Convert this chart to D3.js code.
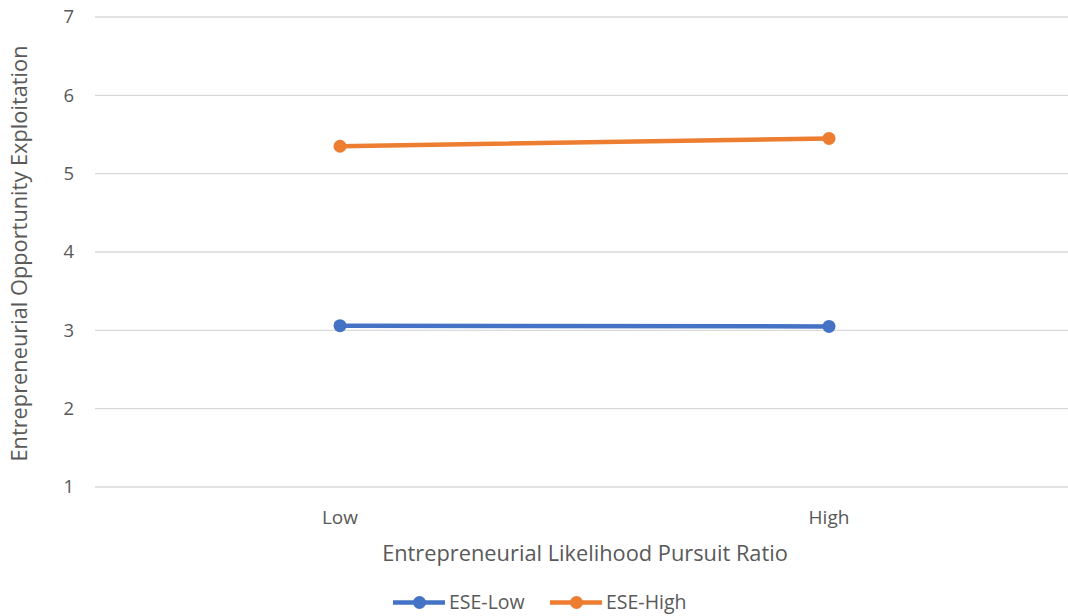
<!DOCTYPE html>
<html><head><meta charset="utf-8">
<script src="https://cdn.jsdelivr.net/npm/d3@7/dist/d3.min.js"></script>
<style>body{margin:0;background:#fff}svg{display:block}text{font-family:"Open Sans",sans-serif;fill:#595959}</style>
</head><body><svg id="c" width="1068" height="616"></svg>
<script>
const categories = ["Low", "High"];
const seriesNames = ["ESE-Low", "ESE-High"];
const eseLow = [3.06, 3.05];
const eseHigh = [5.35, 5.45];
const yTicks = [1, 2, 3, 4, 5, 6, 7];
const colors = ["#4472C4", "#ED7D31"];
const series = [eseLow, eseHigh];

const svg = d3.select("#c");
const x = d3.scaleBand().domain(categories).range([95.5, 1073.5]);
const y = d3.scaleLinear().domain([1, 7]).range([487, 17]);

// gridlines
svg.append("g").selectAll("line").data(yTicks).join("line")
  .attr("x1", 95).attr("x2", 1068)
  .attr("y1", d => y(d)).attr("y2", d => y(d))
  .attr("stroke", "#d9d9d9").attr("stroke-width", 1.3);

// y ticks labels
svg.append("g").selectAll("text").data(yTicks).join("text")
  .attr("x", 74).attr("y", d => y(d)).attr("dy", "0.35em")
  .attr("text-anchor", "end").attr("font-size", 18.5).text(d => d);

// x labels
svg.append("g").selectAll("text").data(categories).join("text")
  .attr("x", d => x(d) + x.bandwidth() / 2).attr("y", 517).attr("dy", "0.35em")
  .attr("text-anchor", "middle").attr("font-size", 19).text(d => d);

// axis titles
svg.append("text").attr("x", 585).attr("y", 553).attr("dy", "0.35em")
  .attr("text-anchor", "middle").attr("font-size", 21.8)
  .text("Entrepreneurial Likelihood Pursuit Ratio");
svg.append("text").attr("transform", "translate(19,253.5) rotate(-90)").attr("dy", "0.35em")
  .attr("text-anchor", "middle").attr("font-size", 21.8)
  .text("Entrepreneurial Opportunity Exploitation");

const line = d3.line().x((d, i) => x(categories[i]) + x.bandwidth() / 2).y(d => y(d));
series.forEach((s, k) => {
  svg.append("path").datum(s).attr("d", line).attr("fill", "none")
    .attr("stroke", colors[k]).attr("stroke-width", 4.5).attr("stroke-linecap", "round");
  svg.append("g").selectAll("circle").data(s).join("circle")
    .attr("cx", (d, i) => x(categories[i]) + x.bandwidth() / 2).attr("cy", d => y(d))
    .attr("r", 6.5).attr("fill", colors[k]);
});

// legend
const legX = [393, 550];
const legY = 602.5;
seriesNames.forEach((n, k) => {
  const g = svg.append("g").attr("transform", `translate(${legX[k]},${legY})`);
  g.append("line").attr("x1", 0).attr("x2", 52).attr("stroke", colors[k]).attr("stroke-width", 4.5);
  g.append("circle").attr("cx", 26.5).attr("r", 6.5).attr("fill", colors[k]);
  g.append("text").attr("x", 56).attr("dy", "0.35em").attr("font-size", 19.5).text(n);
});
</script></body></html>
